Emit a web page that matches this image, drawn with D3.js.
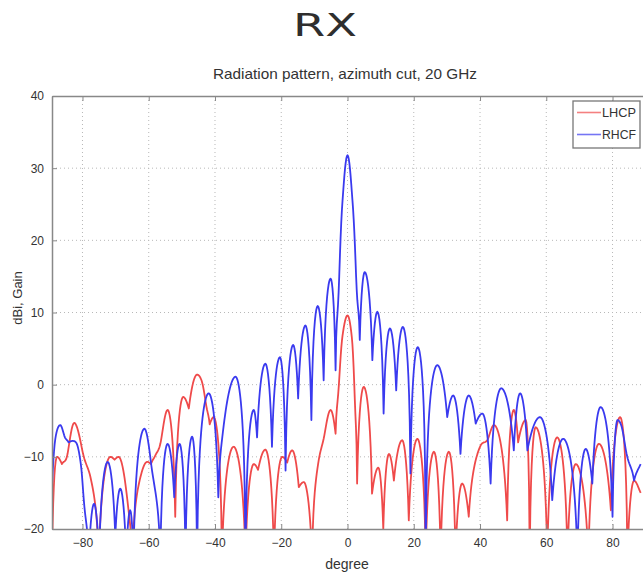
<!DOCTYPE html>
<html>
<head>
<meta charset="utf-8">
<script src="https://cdn.jsdelivr.net/npm/d3@7"></script>
<style>
  html, body { margin: 0; padding: 0; background: #fff; }
  svg { display: block; }
  text { font-family: "Liberation Sans", Arial, sans-serif; fill: #333; }
</style>
</head>
<body>
<svg id="chart" width="643" height="577"></svg>
<script>
// Azimuth cut at 20 GHz: gain (dBi) versus angle (degree)
const xTicks = [-80, -60, -40, -20, 0, 20, 40, 60, 80];
const yTicks = [-20, -10, 0, 10, 20, 30, 40];
const seriesNames = ["LHCP", "RHCF"];
const seriesColors = ["#ef4a4a", "#3a3aef"];

// LHCP trace: [degree, dBi]
const lhcp = [
  [-89.2, -24], [-88.3, -11.5], [-87.7, -10], [-86.2, -11], [-84.7, -10], [-82.5, -5.3],
  [-79.6, -10], [-77.6, -12.8], [-75.1, -24], [-71.6, -10], [-70.3, -10.4], [-69.1, -10],
  [-66.1, -17.4], [-65.0, -24], [-62.5, -12.8], [-60.5, -10.7], [-59.3, -11], [-58.0, -9.8],
  [-56.5, -8.2], [-54.3, -3.5], [-52.0, -18.3], [-49.6, -1.7], [-47.9, -3.3], [-45.4, 1.4],
  [-44.0, 0.5], [-42.6, -3], [-41.6, -5.5], [-40.4, -4.5], [-37.9, -24], [-34.4, -8.6],
  [-30.8, -24], [-28.3, -11], [-27.0, -11.8], [-24.8, -9], [-22.2, -24], [-19.7, -10],
  [-18.2, -10.8], [-16.7, -9.1], [-14.7, -14.2], [-13.2, -13.5], [-10.7, -24], [-8.7, -10.5],
  [-7.2, -7.5], [-5.1, -3.5], [-3.6, -6.8], [-2.6, 0], [-1.5, 6.8], [0, 9.6], [1.3, 6.6],
  [2.2, -2], [2.9, -13.7], [4.9, -0.3], [7.4, -15.1], [9.3, -11.5], [10.8, -20], [12.5, -9.6],
  [14.0, -13.3], [16.5, -7.7], [18.5, -18.8], [21.1, -7.5], [23.6, -24], [26.1, -9.3],
  [28.1, -24], [30.6, -9.3], [32.6, -24], [34.6, -13.7], [36.6, -18.3], [40.2, -8.4],
  [42.2, -7.7], [44.2, -5.6], [48.2, -18.8], [50.2, -3.5], [51.5, -8], [53.8, -4.9],
  [55.0, -24], [56.8, -5.9], [60.3, -24], [63.3, -7.3], [66.4, -24], [68.9, -11],
  [72.7, -24], [75.9, -8.2], [79.5, -17.4], [82.3, -4.5], [84.5, -24], [86.5, -13.3],
  [88.5, -15]
];

// RHCF trace: [degree, dBi]
const rhcf = [
  [-89.2, -14], [-88.2, -7.5], [-86.7, -5.6], [-85.3, -7.3], [-84.2, -8], [-83.0, -7.8],
  [-81.7, -8.2], [-80.5, -11], [-79.6, -16], [-78.1, -24], [-76.5, -16.5], [-75.0, -24],
  [-72.4, -10.7], [-70.1, -21], [-68.6, -14.4], [-66.8, -24], [-65.6, -17.4], [-64.6, -24],
  [-61.3, -6.1], [-59.0, -11.9], [-56.5, -24], [-54.3, -8.2], [-52.3, -15.6], [-50.7, -8.2],
  [-48.9, -24], [-46.9, -7.2], [-45.4, -24], [-41.9, -1.2], [-39.0, -15.6], [-37.8, -7.3],
  [-33.8, 1.1], [-30.8, -24], [-28.3, -3.5], [-27.3, -7.3], [-24.8, 2.9], [-22.8, -8.6],
  [-20.4, 3.8], [-18.7, -11.9], [-16.4, 5.5], [-14.9, -1.9], [-12.7, 8.2], [-10.9, -4.9],
  [-9.0, 10.9], [-7.2, 0.6], [-5.1, 14.7], [-3.6, 2.0], [-2.5, 15], [-1.5, 25.5], [0, 31.8],
  [1.5, 25.5], [2.6, 15], [3.7, 6.2], [5.2, 15.6], [7.5, 3.4], [9.0, 10.1], [10.9, -4],
  [12.8, 7.8], [14.7, -0.8], [16.7, 8], [19.0, -12.3], [21.2, 5.2], [23.6, -24], [27.1, 2.7],
  [30.1, -4.5], [31.9, -1.5], [34.1, -9.6], [36.6, -1.5], [38.7, -5.4], [40.7, -4],
  [43.2, -13.7], [46.4, -0.5], [50.2, -9.1], [52.1, -1.2], [54.3, -9.1], [58.1, -4.5],
  [61.8, -16], [65.1, -7.5], [69.4, -24], [71.9, -8.9], [73.9, -13.7], [76.4, -3.1],
  [80.0, -18.3], [81.5, -4.9], [82.6, -5.6], [84.2, -9.5], [86.5, -13.3], [88.5, -11]
];

const svg = d3.select("#chart");
const plotLeft = 52, plotRight = 644, plotTop = 96, plotBottom = 529;

const x = d3.scaleLinear().domain([-89.2, 89.5]).range([plotLeft, plotRight]);
const y = d3.scaleLinear().domain([-20, 40]).range([plotBottom, plotTop]);

// Curve factory for gain patterns: a Hermite spline evaluated on field
// amplitude (10^(dB/20)) and mapped back to dB, so lobes come out rounded
// and nulls come out as sharp notches.
function gainCurve(yScale) {
  function GainCurve(context) { this._context = context; }
  GainCurve.prototype = {
    areaStart() {}, areaEnd() {},
    lineStart() { this._p = []; },
    point(px, py) { this._p.push([+px, +py]); },
    lineEnd() {
      const P = this._p, n = P.length, ctx = this._context;
      if (!n) return;
      const xs = P.map(p => p[0]);
      const a = P.map(p => Math.pow(10, yScale.invert(p[1]) / 20));
      const s = [];
      for (let i = 0; i < n - 1; i++) s.push((a[i + 1] - a[i]) / (xs[i + 1] - xs[i]));
      const tin = new Array(n).fill(0), tout = new Array(n).fill(0);
      for (let i = 0; i < n; i++) {
        if (i === 0) { tout[i] = s[0] || 0; continue; }
        if (i === n - 1) { tin[i] = s[n - 2]; continue; }
        const isMax = a[i] >= a[i - 1] && a[i] >= a[i + 1];
        const isMin = a[i] <= a[i - 1] && a[i] <= a[i + 1];
        if (isMax) { tin[i] = 0; tout[i] = 0; }
        else if (isMin) { tin[i] = 1.5 * s[i - 1]; tout[i] = 1.5 * s[i]; }
        else { const m = (s[i - 1] + s[i]) / 2; tin[i] = m; tout[i] = m; }
      }
      ctx.moveTo(P[0][0], P[0][1]);
      for (let i = 0; i < n - 1; i++) {
        const x0 = xs[i], x1 = xs[i + 1], dx = x1 - x0, d = s[i];
        let m0 = tout[i], m1 = tin[i + 1];
        if (d === 0) { m0 = 0; m1 = 0; }
        else {
          let al = Math.max(0, m0 / d), be = Math.max(0, m1 / d);
          const r = al * al + be * be;
          if (r > 9) { const t = 3 / Math.sqrt(r); al *= t; be *= t; }
          m0 = al * d; m1 = be * d;
        }
        const steps = Math.max(2, Math.ceil(dx / 0.7));
        for (let k = 1; k <= steps; k++) {
          const t = k / steps, t2 = t * t, t3 = t2 * t;
          const v = (2 * t3 - 3 * t2 + 1) * a[i] + (t3 - 2 * t2 + t) * dx * m0
                  + (-2 * t3 + 3 * t2) * a[i + 1] + (t3 - t2) * dx * m1;
          const db = 20 * Math.log10(Math.max(v, 1e-4));
          ctx.lineTo(x0 + t * dx, yScale(db));
        }
      }
    }
  };
  return context => new GainCurve(context);
}

// headings
svg.append("text")
  .attr("x", 325).attr("y", 36)
  .attr("text-anchor", "middle")
  .attr("font-size", 32)
  .attr("textLength", 64).attr("lengthAdjust", "spacingAndGlyphs")
  .style("font-family", "'DejaVu Sans', sans-serif")
  .style("fill", "#2e2e2e")
  .text("RX");

svg.append("text")
  .attr("x", 345).attr("y", 79)
  .attr("text-anchor", "middle")
  .attr("font-size", 15)
  .attr("textLength", 264).attr("lengthAdjust", "spacingAndGlyphs")
  .text("Radiation pattern, azimuth cut, 20 GHz");

// dotted grid
const grid = svg.append("g").attr("stroke", "#b8b8b8").attr("stroke-dasharray", "1,3").attr("stroke-width", 1);
grid.selectAll("line.gx").data(xTicks).join("line")
  .attr("x1", d => x(d)).attr("x2", d => x(d)).attr("y1", plotTop).attr("y2", plotBottom);
grid.selectAll("line.gy").data(yTicks.filter(d => d > -20 && d < 40)).join("line")
  .attr("x1", plotLeft).attr("x2", plotRight).attr("y1", d => y(d)).attr("y2", d => y(d));

// traces
svg.append("clipPath").attr("id", "plotClip")
  .append("rect").attr("x", plotLeft).attr("y", plotTop)
  .attr("width", plotRight - plotLeft).attr("height", plotBottom - plotTop);

const line = d3.line().x(d => x(d[0])).y(d => y(d[1])).curve(gainCurve(y));
const traces = svg.append("g").attr("clip-path", "url(#plotClip)");
[lhcp, rhcf].forEach((s, i) => {
  traces.append("path").datum(s)
    .attr("d", line)
    .attr("fill", "none")
    .attr("stroke", seriesColors[i])
    .attr("stroke-width", 1.8)
    .attr("stroke-linejoin", "round");
});

// axes with inward ticks
const axisColor = "#888";
const gx = svg.append("g").attr("transform", `translate(0,${plotBottom})`)
  .call(d3.axisBottom(x).tickValues(xTicks).tickSizeInner(-5).tickSizeOuter(0).tickPadding(9));
const gy = svg.append("g").attr("transform", `translate(${plotLeft},0)`)
  .call(d3.axisLeft(y).tickValues(yTicks).tickSizeInner(-5).tickSizeOuter(0).tickPadding(6));
const gxt = svg.append("g").attr("transform", `translate(0,${plotTop})`)
  .call(d3.axisTop(x).tickValues(xTicks).tickSizeInner(-5).tickSizeOuter(0).tickFormat(""));
[gx, gy, gxt].forEach(g => {
  g.selectAll("path.domain").attr("stroke", axisColor).attr("stroke-width", 1.5);
  g.selectAll(".tick line").attr("stroke", axisColor);
  g.selectAll(".tick text")
    .style("font-family", "'Liberation Sans', Arial, sans-serif")
    .attr("font-size", 12).style("fill", "#333");
});
gy.selectAll(".tick text").attr("dx", "-2");

// axis titles
svg.append("text")
  .attr("x", 347).attr("y", 569)
  .attr("text-anchor", "middle")
  .attr("font-size", 14)
  .text("degree");

svg.append("text")
  .attr("transform", "translate(22,298) rotate(-90)")
  .attr("text-anchor", "middle")
  .attr("font-size", 13)
  .text("dBi, Gain");

// legend
const lg = svg.append("g");
lg.append("rect")
  .attr("x", 573).attr("y", 101).attr("width", 67).attr("height", 47)
  .attr("fill", "#fff").attr("stroke", "#777").attr("stroke-width", 1.3);
seriesNames.forEach((name, i) => {
  const yy = 112.5 + i * 22;
  lg.append("line")
    .attr("x1", 577).attr("x2", 601).attr("y1", yy).attr("y2", yy)
    .attr("stroke", seriesColors[i]).attr("stroke-width", 1.6).attr("stroke-opacity", 0.7);
  lg.append("text")
    .attr("x", 602).attr("y", yy + 4.5)
    .attr("font-size", 12)
    .attr("textLength", 34).attr("lengthAdjust", "spacingAndGlyphs")
    .text(name);
});
</script>
</body>
</html>
